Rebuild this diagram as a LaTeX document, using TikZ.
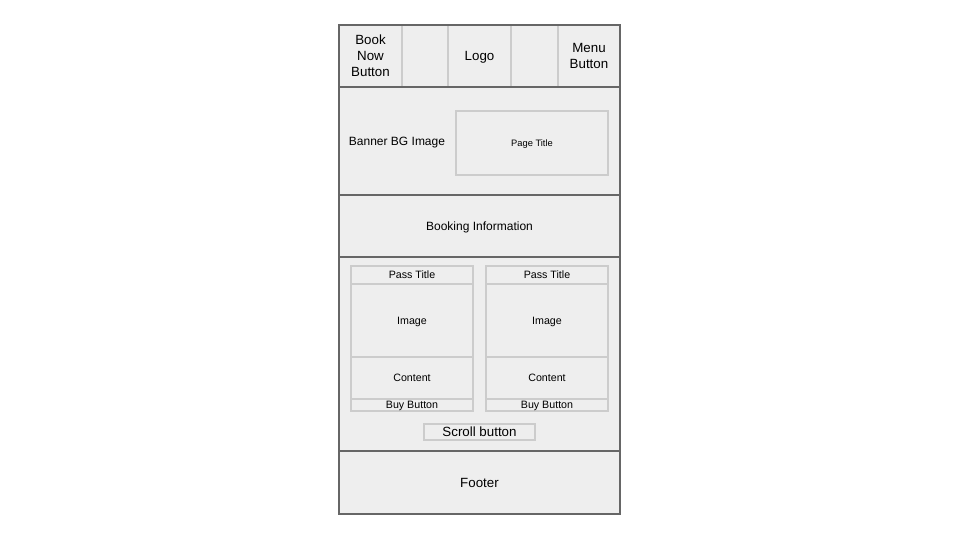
\documentclass[tikz,border=0pt]{standalone}
\usepackage{fontspec}
\setmainfont{Liberation Sans}
\definecolor{panelfill}{HTML}{EEEEEE}
\definecolor{darkline}{HTML}{666666}
\definecolor{lightline}{HTML}{CCCCCC}
\newcommand{\pxu}{0.75pt}
\tikzset{
  cell/.style 2 args={shape=rectangle, inner sep=0pt, align=center, text depth=0pt,
    minimum width=#1*\pxu, minimum height=#2*\pxu},
  section/.style={draw=darkline, line width=1.5pt},
  part/.style={draw=lightline, fill=panelfill, line width=1.5pt},
  big/.style={font=\fontsize{10pt}{12pt}\selectfont},
  mid/.style={font=\fontsize{9pt}{11pt}\selectfont},
  small/.style={font=\fontsize{8pt}{9pt}\selectfont},
  tiny/.style={font=\fontsize{7pt}{8pt}\selectfont},
}
\begin{document}
\begin{tikzpicture}[x=0.75pt, y=-0.75pt]
	\useasboundingbox (0,0) rectangle (960,540);
	% page background
	\node[cell={281}{489}, fill=panelfill] (page) at (479.5,269.5) {};
	% header cells
	\node[cell={63}{62}, part, big] (booknow) at (370.5,56) {Book\\Now\\Button};
	\node[cell={46}{62}, part]      (gapleft) at (425,56)   {};
	\node[cell={63}{62}, part, big] (logo)    at (479.5,56) {Logo};
	\node[cell={47}{62}, part]      (gapright) at (534.5,56) {};
	\node[cell={62}{62}, part, big] (menu)    at (589,56)   {Menu\\Button};
	% sections
	\node[cell={281}{62},  section] (header)  at (479.5,56)    {};
	\node[cell={281}{108}, section] (banner)  at (479.5,141)   {};
	\node[cell={281}{62},  section, mid] (booking) at (479.5,226) {Booking Information};
	\node[cell={281}{194}, section] (passes)  at (479.5,354)   {};
	\node[cell={281}{63},  section, big] (footer) at (479.5,482.5) {Footer};
	% banner contents
	\node[cell={0}{0}, mid] (bannerimg) at (397,141) {Banner BG Image};
	\node[cell={152}{64}, part, tiny] (pagetitle) at (532,143) {Page Title};
	% pass cards
	\foreach \cx/\side in {412/left, 547/right} {
		\node[cell={122}{18}, part, small] (title-\side)   at (\cx,275)   {Pass Title};
		\node[cell={122}{73}, part, small] (image-\side)   at (\cx,320.5) {Image};
		\node[cell={122}{42}, part, small] (content-\side) at (\cx,378)   {Content};
		\node[cell={122}{12}, part, small] (buy-\side)     at (\cx,405)   {Buy Button};
	}
	\node[cell={111}{16}, part, big] (scroll) at (479.5,432) {Scroll button};
\end{tikzpicture}
\end{document}
